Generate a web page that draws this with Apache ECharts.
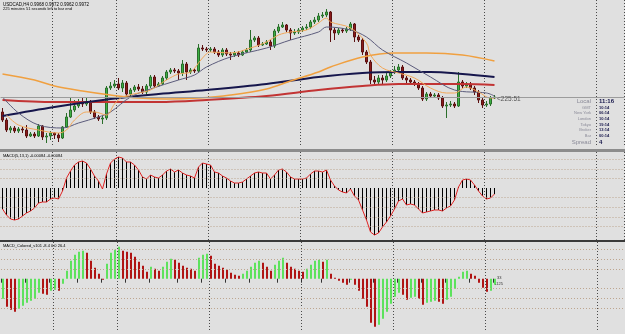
<!DOCTYPE html>
<html>
<head>
<meta charset="utf-8">
<script src="https://cdn.jsdelivr.net/npm/echarts@6/dist/echarts.min.js"></script>
<style>
html, body { margin: 0; padding: 0; background: #e0e0e0; }
#chart { width: 625px; height: 334px; }
</style>
</head>
<body>
<div id="chart"></div>
<script>
// USDCAD H4 - candles + MA + two MACD windows
const slotCount = 156; // bars plus the empty chart-shift area on the right
const slots = Array.from({ length: slotCount }, (_, i) => String(i));
const dayLineIdx = [13, 29, 52, 75, 98, 121, 149];
const timeTickIdx = [0, 6, 12, 19, 25, 31, 37, 44, 50, 56, 62, 69, 75, 80, 87, 93, 99, 105, 111, 117, 123];

const firstOpen = 0.9897;
const closes = [
  0.9889, 0.9879, 0.9881, 0.9878, 0.9880, 0.9879, 0.9873, 0.9875, 0.9873, 0.9883,
  0.9872, 0.9873, 0.9876, 0.9874, 0.9871, 0.9882, 0.9892, 0.9899, 0.9903, 0.9906,
  0.9905, 0.9907, 0.9897, 0.9892, 0.9890, 0.9891, 0.9921, 0.9923, 0.9925, 0.9921,
  0.9926, 0.9915, 0.9919, 0.9922, 0.9920, 0.9917, 0.9923, 0.9932, 0.9923, 0.9925,
  0.9931, 0.9937, 0.9939, 0.9938, 0.9936, 0.9945, 0.9937, 0.9939, 0.9938, 0.9961,
  0.9960, 0.9959, 0.9960, 0.9957, 0.9954, 0.9959, 0.9955, 0.9954, 0.9956, 0.9954,
  0.9957, 0.9959, 0.9969, 0.9971, 0.9964, 0.9965, 0.9967, 0.9963, 0.9978, 0.9982,
  0.9984, 0.9979, 0.9976, 0.9977, 0.9979, 0.9981, 0.9982, 0.9987, 0.9989, 0.9993,
  0.9994, 0.9997, 0.9979, 0.9976, 0.9979, 0.9978, 0.9980, 0.9985, 0.9972, 0.9969,
  0.9957, 0.9947, 0.9929, 0.9927, 0.9931, 0.9929, 0.9933, 0.9937, 0.9939, 0.9942,
  0.9931, 0.9929, 0.9927, 0.9925, 0.9921, 0.9910, 0.9915, 0.9913, 0.9914, 0.9911,
  0.9903, 0.9904, 0.9905, 0.9903, 0.9927, 0.9923, 0.9925, 0.9921, 0.9917, 0.9909,
  0.9904, 0.9905, 0.9911, 0.9912
];
const highs = [
  0.9901, 0.9891, 0.9883, 0.9883, 0.9882, 0.9882, 0.9884, 0.9877, 0.9877, 0.9885,
  0.9884, 0.9876, 0.9878, 0.9877, 0.9876, 0.9883, 0.9896, 0.9911, 0.9909, 0.9910,
  0.9911, 0.9912, 0.9909, 0.9899, 0.9894, 0.9893, 0.9923, 0.9927, 0.9929, 0.9931,
  0.9929, 0.9928, 0.9921, 0.9924, 0.9925, 0.9923, 0.9925, 0.9934, 0.9934, 0.9927,
  0.9933, 0.9939, 0.9941, 0.9941, 0.9940, 0.9949, 0.9947, 0.9941, 0.9941, 0.9965,
  0.9964, 0.9962, 0.9962, 0.9962, 0.9959, 0.9961, 0.9961, 0.9957, 0.9958, 0.9958,
  0.9959, 0.9961, 0.9979, 0.9973, 0.9973, 0.9967, 0.9969, 0.9969, 0.9980, 0.9985,
  0.9987, 0.9985, 0.9981, 0.9980, 0.9981, 0.9983, 0.9985, 0.9989, 0.9992, 0.9996,
  0.9997, 1.0000, 0.9998, 0.9981, 0.9981, 0.9981, 0.9982, 0.9987, 0.9986, 0.9974,
  0.9971, 0.9959, 0.9949, 0.9933, 0.9934, 0.9934, 0.9937, 0.9939, 0.9943, 0.9945,
  0.9944, 0.9933, 0.9931, 0.9929, 0.9927, 0.9923, 0.9917, 0.9917, 0.9916, 0.9916,
  0.9913, 0.9907, 0.9908, 0.9907, 0.9937, 0.9929, 0.9927, 0.9927, 0.9923, 0.9919,
  0.9911, 0.9908, 0.9913, 0.9914
];
const lows = [
  0.9887, 0.9877, 0.9876, 0.9876, 0.9876, 0.9876, 0.9871, 0.9872, 0.9871, 0.9872,
  0.9869, 0.9866, 0.9869, 0.9870, 0.9867, 0.9870, 0.9881, 0.9891, 0.9897, 0.9901,
  0.9902, 0.9903, 0.9895, 0.9890, 0.9888, 0.9885, 0.9889, 0.9919, 0.9921, 0.9919,
  0.9917, 0.9913, 0.9913, 0.9917, 0.9918, 0.9915, 0.9914, 0.9921, 0.9921, 0.9922,
  0.9924, 0.9929, 0.9935, 0.9936, 0.9929, 0.9933, 0.9929, 0.9935, 0.9936, 0.9936,
  0.9958, 0.9957, 0.9957, 0.9955, 0.9952, 0.9952, 0.9953, 0.9949, 0.9952, 0.9952,
  0.9953, 0.9956, 0.9957, 0.9967, 0.9962, 0.9963, 0.9964, 0.9959, 0.9961, 0.9976,
  0.9981, 0.9977, 0.9969, 0.9974, 0.9975, 0.9977, 0.9979, 0.9980, 0.9985, 0.9987,
  0.9991, 0.9992, 0.9967, 0.9969, 0.9974, 0.9976, 0.9976, 0.9978, 0.9967, 0.9967,
  0.9954, 0.9945, 0.9925, 0.9923, 0.9925, 0.9924, 0.9927, 0.9931, 0.9935, 0.9937,
  0.9929, 0.9926, 0.9924, 0.9923, 0.9919, 0.9908, 0.9908, 0.9911, 0.9911, 0.9909,
  0.9901, 0.9891, 0.9902, 0.9901, 0.9902, 0.9921, 0.9921, 0.9919, 0.9914, 0.9906,
  0.9901, 0.9902, 0.9903, 0.9910
];

// moving averages, read at sample bars [barIndex, price]
const maFast = [[1,0.9894],[4,0.9884],[9,0.9879],[14,0.9876],[16,0.9879],[18,0.9889],[21,0.9897],[23,0.9897],[26,0.9894],[28,0.9905],[30,0.9912],[34,0.9916],[37,0.9919],[41,0.9929],[44,0.9935],[47,0.9937],[50,0.9951],[52,0.9957],[57,0.9956],[62,0.9961],[66,0.9967],[69,0.9974],[72,0.9977],[76,0.9979],[79,0.9986],[81,0.9991],[82,0.9987],[87,0.9981],[91,0.9966],[92,0.9954],[95,0.9941],[99,0.9936],[103,0.9931],[107,0.9921],[111,0.9916],[113,0.9916],[116,0.9922],[119,0.9917],[122,0.9911],[123,0.9911]];
const maMid = [[0,0.9912],[4,0.9896],[9,0.9884],[15,0.9881],[19,0.9886],[24,0.9892],[27,0.9897],[32,0.9912],[37,0.9920],[44,0.9929],[48,0.9934],[51,0.9942],[57,0.9952],[66,0.9961],[72,0.9969],[79,0.9977],[81,0.9982],[87,0.9979],[91,0.9972],[95,0.9959],[101,0.9946],[107,0.9932],[113,0.9919],[121,0.9916],[123,0.9913]];
const maSlowOrange = [[0,0.9935],[8,0.9929],[13,0.9923],[20,0.9918],[27,0.9914],[34,0.9911],[41,0.9910],[49,0.9911],[57,0.9914],[66,0.9920],[72,0.9928],[79,0.9937],[82,0.9942],[90,0.9952],[98,0.9956],[106,0.9956],[115,0.9954],[123,0.9948]];
const maNavy = [[0,0.9893],[13,0.9902],[27,0.9910],[39,0.9915],[51,0.9919],[66,0.9925],[79,0.9932],[90,0.9936],[99,0.9937],[107,0.9937],[115,0.9935],[123,0.9932]];
const maRed = [[0,0.9909],[13,0.9907],[27,0.9907],[39,0.9907],[51,0.9909],[66,0.9913],[79,0.9919],[90,0.9923],[99,0.9925],[107,0.9925],[115,0.9925],[123,0.9924]];

// MACD(5,13,1)
const macd = [
  -0.0021, -0.0027, -0.0031, -0.0032, -0.0031, -0.0028, -0.0025, -0.0023, -0.0020, -0.0015,
  -0.0014, -0.0014, -0.0011, -0.0010, -0.0011, -0.0003, 0.0010, 0.0017, 0.0023, 0.0026,
  0.0027, 0.0025, 0.0019, 0.0012, 0.0007, -0.0001, 0.0014, 0.0025, 0.0029, 0.0031,
  0.0030, 0.0026, 0.0026, 0.0023, 0.0018, 0.0011, 0.0009, 0.0013, 0.0011, 0.0010,
  0.0013, 0.0017, 0.0019, 0.0016, 0.0018, 0.0015, 0.0013, 0.0012, 0.0010, 0.0021,
  0.0025, 0.0024, 0.0023, 0.0016, 0.0015, 0.0012, 0.0010, 0.0007, 0.0005, 0.0005,
  0.0006, 0.0009, 0.0012, 0.0015, 0.0016, 0.0015, 0.0015, 0.0009, 0.0013, 0.0018,
  0.0019, 0.0016, 0.0011, 0.0009, 0.0009, 0.0009, 0.0010, 0.0014, 0.0017, 0.0017,
  0.0016, 0.0018, 0.0008, 0.0002, -0.0002, -0.0004, -0.0005, -0.0001, -0.0008, -0.0012,
  -0.0022, -0.0032, -0.0044, -0.0047, -0.0045, -0.0039, -0.0034, -0.0028, -0.0021, -0.0013,
  -0.0011, -0.0017, -0.0016, -0.0017, -0.0021, -0.0025, -0.0024, -0.0023, -0.0022, -0.0022,
  -0.0023, -0.0020, -0.0018, -0.0012, 0.0001, 0.0008, 0.0009, 0.0008, 0.0003, -0.0003,
  -0.0008, -0.0011, -0.0010, -0.0006
];
const macdLevels = [0.00288, 0.00192, 0.00096, -0.00096, -0.00192, -0.00288, -0.00384];

// MACD_Colored
const macdCol = [
  -20, -28, -31, -33, -30, -27, -24, -22, -20, -14,
  -15, -16, -12, -11, -12, -5, 8, 18, 24, 27,
  28, 26, 18, 11, 5, -1, 15, 26, 29, 32,
  28, 27, 26, 22, 17, 13, 7, 12, 10, 8,
  12, 17, 20, 19, 16, 13, 11, 10, 8, 21,
  24, 25, 23, 15, 13, 11, 9, 6, 4, 3,
  5, 8, 12, 16, 18, 16, 12, 8, 14, 18,
  21, 16, 12, 10, 8, 7, 10, 14, 18, 19,
  17, 19, 5, 1, -2, -4, -6, -1, -6, -12,
  -20, -28, -44, -48, -46, -40, -33, -25, -18, -14,
  -16, -21, -19, -18, -20, -26, -24, -23, -22, -23,
  -25, -21, -18, -10, 2, 7, 8, 5, 3, -4,
  -9, -13, -12, -6
];
const macdColLevels = [29.1, 19.4, 9.7, -9.7, -19.4, -29.1];

const clockLabels = ['Local', 'GMT', 'New York', 'London', 'Tokyo', 'Broker', 'Bar', 'Spread'];
const clockValues = ['11:16', '10:14', '06:14', '10:14', '19:14', '13:14', '00:14', '4'];

const FONT = 'Liberation Sans';
const candles = closes.map((c, i) => [i ? closes[i - 1] : firstOpen, c, lows[i], highs[i]]);
const lastPrice = closes[closes.length - 1];

function xAx(gridIndex, ticks) {
  return {
    type: 'category', gridIndex: gridIndex, data: slots, boundaryGap: true,
    axisLine: { show: false }, axisLabel: { show: false },
    axisTick: ticks ? { show: true, length: 4, interval: (i) => timeTickIdx.includes(i), lineStyle: { color: '#333' } } : { show: false },
    splitLine: { show: true, interval: (i) => dayLineIdx.includes(i), lineStyle: { color: '#4a4a4a', type: [1, 2], width: 1 } }
  };
}
function yAx(gridIndex, min, max) {
  return { type: 'value', gridIndex: gridIndex, min: min, max: max, axisLine: { show: false }, axisTick: { show: false }, axisLabel: { show: false }, splitLine: { show: false } };
}
function levelLines(levels) {
  return { silent: true, symbol: 'none', precision: 6, label: { show: false }, animation: false,
    lineStyle: { color: '#bda690', type: [1, 2], width: 1 }, data: levels.map(v => ({ yAxis: v })) };
}
function maLine(data, color, width) {
  return { type: 'line', xAxisIndex: 0, yAxisIndex: 0, data: data, showSymbol: false, smooth: 0.35,
    lineStyle: { color: color, width: width }, silent: true };
}

const clockText = [];
clockLabels.forEach((lab, i) => {
  const big = i === 0 || i === clockLabels.length - 1;
  const y = [101, 107.5, 113, 119, 124.5, 130, 136, 142][i];
  clockText.push({ type: 'text', x: 591, y: y, z: 50, style: { text: lab, align: 'right', verticalAlign: 'middle', fontFamily: FONT, fontSize: big ? 6 : 4, fill: '#8a8a98' } });
  clockText.push({ type: 'text', x: 599, y: y, z: 50, style: { text: clockValues[i], align: 'left', verticalAlign: 'middle', fontFamily: FONT, fontSize: big ? 6 : 4, fontWeight: 'bold', fill: '#15154a' } });
});

let chart = echarts.init(document.getElementById('chart'));
let option = {
  backgroundColor: '#e0e0e0',
  animation: false,
  grid: [
    { left: 0.5, right: 0.5, top: 0, height: 146 },
    { left: 0.5, right: 0.5, top: 152, height: 88 },
    { left: 1, right: 0, top: 242, height: 88 }
  ],
  xAxis: [xAx(0, false), xAx(1, false), xAx(2, true)],
  yAxis: [yAx(0, 0.9863, 1.0009), yAx(1, -0.0052, 0.0036), yAx(2, -51.3, 36.7)],
  series: [
    {
      type: 'candlestick', xAxisIndex: 0, yAxisIndex: 0, data: candles, barWidth: 3,
      itemStyle: { color: '#3cb043', color0: '#8b1a1a', borderColor: '#2a6e2a', borderColor0: '#5a1010', borderWidth: 1 }
    },
    {
      type: 'line', xAxisIndex: 0, yAxisIndex: 0, data: [], silent: true,
      markLine: { silent: true, symbol: 'none', precision: 6, label: { show: false }, animation: false,
        lineStyle: { color: '#9c9c9c', type: 'solid', width: 1 }, data: [{ yAxis: lastPrice }] }
    },
    maLine(maRed, '#c23434', 2),
    maLine(maNavy, '#16164c', 2),
    maLine(maSlowOrange, '#f0a040', 1.5),
    maLine(maMid, '#5c5c7c', 1),
    maLine(maFast, '#f2a85a', 1),
    {
      type: 'bar', xAxisIndex: 1, yAxisIndex: 1, data: macd, barWidth: 1,
      itemStyle: { color: '#000' }, silent: true, markLine: levelLines(macdLevels)
    },
    {
      type: 'line', xAxisIndex: 1, yAxisIndex: 1, data: macd, showSymbol: false,
      lineStyle: { color: '#e02424', width: 1 }, silent: true
    },
    {
      type: 'bar', xAxisIndex: 2, yAxisIndex: 2, data: macdCol, barWidth: 2, silent: true,
      itemStyle: { color: (p) => (p.dataIndex > 0 && macdCol[p.dataIndex] < macdCol[p.dataIndex - 1]) ? '#b01414' : '#5de25d' },
      markLine: levelLines(macdColLevels)
    }
  ],
  graphic: [
    { type: 'rect', shape: { x: 0, y: 149, width: 625, height: 3 }, style: { fill: '#8c8c8c' }, z: 40 },
    { type: 'rect', shape: { x: 0, y: 240, width: 625, height: 2 }, style: { fill: '#3a3a3a' }, z: 40 },
    { type: 'text', x: 3, y: 2, z: 50, style: { text: 'USDCAD,H4 0.9968 0.9972 0.9962 0.9972', fontFamily: FONT, fontSize: 4.5, fill: '#000' } },
    { type: 'text', x: 3, y: 6.5, z: 50, style: { text: '225 minutes 51 seconds left to bar end', fontFamily: FONT, fontSize: 4, fill: '#000' } },
    { type: 'text', x: 497, y: 99.5, z: 50, style: { text: '<225:51', verticalAlign: 'middle', fontFamily: FONT, fontSize: 6.5, fill: '#555' } },
    { type: 'text', x: 3, y: 154, z: 50, style: { text: 'MACD(5,13,1) -0.00084 -0.00084', fontFamily: FONT, fontSize: 4, fill: '#000' } },
    { type: 'text', x: 3, y: 244, z: 50, style: { text: 'MACD_Colored_v101 -8.4 0.0 26.4', fontFamily: FONT, fontSize: 4, fill: '#000' } },
    { type: 'text', x: 497, y: 276, z: 50, style: { text: '33', fontFamily: FONT, fontSize: 4, fill: '#333' } },
    { type: 'text', x: 495, y: 281.5, z: 50, style: { text: '-125', fontFamily: FONT, fontSize: 4, fill: '#333' } }
  ].concat(clockText)
};
chart.setOption(option);
</script>
</body>
</html>
